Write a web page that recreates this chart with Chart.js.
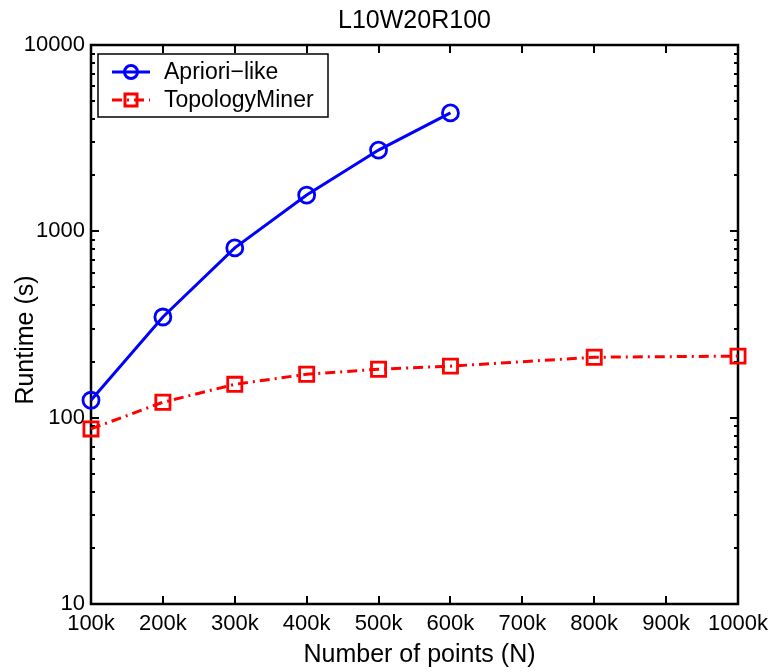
<!DOCTYPE html>
<html>
<head>
<meta charset="utf-8">
<script src="https://cdn.jsdelivr.net/npm/chart.js@4/dist/chart.umd.min.js"></script>
<style>
  html, body { margin: 0; padding: 0; background: #fff; }
  #wrap { width: 776px; height: 672px; }
</style>
</head>
<body>
<div id="wrap"><canvas id="chart" width="776" height="672"></canvas></div>
<script>
// Runtime vs number of points, log y axis (MATLAB-style figure)
const FONT = '"Liberation Sans", Arial, Helvetica, sans-serif';

const chartTitle = "L10W20R100";
const xTitle = "Number of points (N)";
const yTitle = "Runtime (s)";

const xTicks = [100, 200, 300, 400, 500, 600, 700, 800, 900, 1000]; // in thousands
const yTicks = [10, 100, 1000, 10000];

const aprioriX = [100, 200, 300, 400, 500, 600];
const aprioriY = [124, 347, 815, 1566, 2730, 4320];

const topoX = [100, 200, 300, 400, 500, 600, 800, 1000];
const topoY = [87, 121, 151, 171, 182, 189, 211, 214];

const toPoints = (xs, ys) => xs.map((x, i) => ({ x, y: ys[i] }));

// Box, inward ticks (incl. log minor ticks), titles and legend
const matlabAxes = {
  id: "matlabAxes",
  beforeDatasetsDraw(chart) {
    const { ctx, chartArea: a, scales } = chart;
    const { x: xs, y: ys } = scales;
    ctx.save();
    ctx.strokeStyle = "#000";
    ctx.lineWidth = 2;
    ctx.beginPath();
    // x ticks, top and bottom
    xTicks.forEach((v) => {
      const px = Math.round(xs.getPixelForValue(v));
      ctx.moveTo(px, a.bottom); ctx.lineTo(px, a.bottom - 8);
      ctx.moveTo(px, a.top); ctx.lineTo(px, a.top + 8);
    });
    // y ticks, major and minor, left and right
    for (let d = 10; d < 10000; d *= 10) {
      for (let m = 1; m <= 10; m++) {
        const len = m === 1 || m === 10 ? 8 : 4;
        const py = Math.round(ys.getPixelForValue(d * m));
        ctx.moveTo(a.left, py); ctx.lineTo(a.left + len, py);
        ctx.moveTo(a.right, py); ctx.lineTo(a.right - len, py);
      }
    }
    ctx.stroke();
    ctx.lineWidth = 2.5;
    ctx.strokeRect(a.left, a.top, a.right - a.left, a.bottom - a.top);

    // titles
    ctx.fillStyle = "#000";
    ctx.textAlign = "center";
    ctx.textBaseline = "alphabetic";
    ctx.font = "25px " + FONT;
    ctx.fillText(chartTitle, (a.left + a.right) / 2, 28);
    ctx.fillText(xTitle, (a.left + a.right) / 2 + 5, 662);
    ctx.translate(33, 340);
    ctx.rotate(-Math.PI / 2);
    ctx.fillText(yTitle, 0, 0);
    ctx.restore();
  },
  afterDatasetsDraw(chart) {
    const { ctx } = chart;
    const box = { x: 98, y: 54, w: 230, h: 63 };
    ctx.save();
    ctx.fillStyle = "#fff";
    ctx.fillRect(box.x, box.y, box.w, box.h);
    ctx.strokeStyle = "#000";
    ctx.lineWidth = 1.5;
    ctx.strokeRect(box.x, box.y, box.w, box.h);
    chart.data.datasets.forEach((ds, i) => {
      const cy = 72 + i * 28;
      ctx.strokeStyle = ds.borderColor;
      ctx.lineWidth = ds.borderWidth;
      ctx.setLineDash(ds.borderDash || []);
      ctx.beginPath();
      ctx.moveTo(112, cy); ctx.lineTo(150, cy);
      ctx.stroke();
      ctx.setLineDash([]);
      ctx.beginPath();
      if (ds.pointStyle === "circle") {
        ctx.arc(131, cy, 6.5, 0, Math.PI * 2);
      } else {
        ctx.rect(125, cy - 6, 12, 12);
      }
      ctx.stroke();
      ctx.fillStyle = "#000";
      ctx.font = "23px " + FONT;
      ctx.textAlign = "left";
      ctx.textBaseline = "middle";
      ctx.fillText(ds.label, 164, cy + 1);
    });
    ctx.restore();
  },
};

new Chart(document.getElementById("chart"), {
  type: "line",
  data: {
    datasets: [
      {
        label: "Apriori\u2212like",
        data: toPoints(aprioriX, aprioriY),
        borderColor: "#0000ff",
        backgroundColor: "rgba(0,0,0,0)",
        borderWidth: 3,
        pointStyle: "circle",
        pointRadius: 8,
        pointBorderWidth: 2.8,
        clip: false,
      },
      {
        label: "TopologyMiner",
        data: toPoints(topoX, topoY),
        borderColor: "#ff0000",
        backgroundColor: "rgba(0,0,0,0)",
        borderWidth: 3,
        borderDash: [10, 5, 2, 5],
        pointStyle: "rect",
        pointRadius: 10,
        pointBorderWidth: 2.8,
        clip: false,
      },
    ],
  },
  options: {
    responsive: false,
    animation: false,
    devicePixelRatio: 1,
    layout: { padding: { top: 45, right: 38, left: 0, bottom: 0 } },
    plugins: {
      legend: { display: false },
      title: { display: false },
      tooltip: { enabled: false },
    },
    scales: {
      x: {
        type: "linear",
        min: 100,
        max: 1000,
        afterBuildTicks: (s) => { s.ticks = xTicks.map((v) => ({ value: v })); },
        afterFit: (s) => { s.height = 68; },
        grid: { display: false, drawTicks: false },
        border: { display: false },
        ticks: {
          callback: (v) => v + "k",
          font: { family: FONT, size: 22 },
          color: "#000",
          padding: 7,
          maxRotation: 0,
          autoSkip: false,
        },
      },
      y: {
        type: "logarithmic",
        min: 10,
        max: 10000,
        afterBuildTicks: (s) => { s.ticks = yTicks.map((v) => ({ value: v })); },
        afterFit: (s) => { s.width = 91; },
        grid: { display: false, drawTicks: false },
        border: { display: false },
        ticks: {
          callback: (v) => String(v),
          font: { family: FONT, size: 22 },
          color: "#000",
          padding: 6,
        },
      },
    },
  },
  plugins: [matlabAxes],
});
</script>
</body>
</html>
